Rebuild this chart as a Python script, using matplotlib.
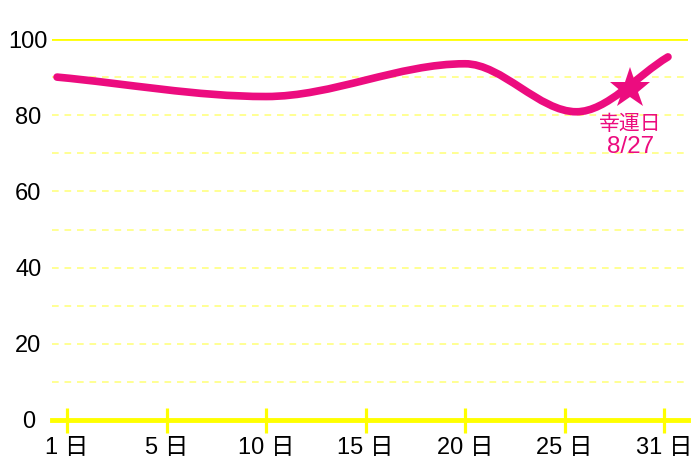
import numpy as np
import matplotlib.pyplot as plt
from matplotlib.path import Path
from matplotlib.patches import PathPatch

plt.rcParams['font.family'] = ['Liberation Sans', 'Noto Sans CJK JP', 'DejaVu Sans']

# tick labels (equally spaced categories)
tick_labels = ['1 日', '5 日', '10 日', '15 日', '20 日', '25 日', '31 日']
y_ticks = [0, 20, 40, 60, 80, 100]

# curve points (position on the tick scale, value)
curve_x = [-0.1, 2.0, 4.0, 5.12, 6.04]
curve_y = [90.0, 84.9, 93.5, 80.9, 95.3]

# lucky day marker
lucky_x = 5.66
lucky_y = 87
lucky_title = '幸運日'
lucky_date = '8/27'

PINK = '#ec0c7f'
YELLOW = '#ffff00'
GRID = '#ffff80'


def monotone_path(xs, ys):
    # monotone cubic (Fritsch-Carlson) drawn as bezier segments
    x = np.asarray(xs, float)
    y = np.asarray(ys, float)
    h = np.diff(x)
    d = np.diff(y) / h
    m = np.zeros_like(y)
    m[0], m[-1] = d[0], d[-1]
    for i in range(1, len(x) - 1):
        if d[i - 1] * d[i] > 0:
            m[i] = (h[i - 1] + h[i]) / (
                (2 * h[i] + h[i - 1]) / d[i - 1] + (h[i] + 2 * h[i - 1]) / d[i])
    verts = [(x[0], y[0])]
    codes = [Path.MOVETO]
    for i in range(len(x) - 1):
        verts += [(x[i] + h[i] / 3, y[i] + m[i] * h[i] / 3),
                  (x[i + 1] - h[i] / 3, y[i + 1] - m[i + 1] * h[i] / 3),
                  (x[i + 1], y[i + 1])]
        codes += [Path.CURVE4] * 3
    return Path(verts, codes)


fig = plt.figure(figsize=(7, 4.67), dpi=100)
ax = fig.add_axes([52 / 700, 47 / 467, 636 / 700, 381 / 467])
ax.set_xlim(-15 / 99.5, 6 + 24 / 99.5)
ax.set_ylim(0, 100)

for s in ax.spines.values():
    s.set_visible(False)

# grid lines
for v in range(10, 100, 10):
    ax.axhline(v, color=GRID, lw=1.2, ls=(0, (4, 3.5)), zorder=1)
ax.axhline(100, color=YELLOW, lw=2, zorder=1)
ax.axhline(0, color=YELLOW, lw=3.5, zorder=2, clip_on=False)

ax.set_xticks(range(len(tick_labels)))
ax.set_xticklabels(tick_labels, fontsize=17)
ax.tick_params(axis='x', direction='inout', length=18, width=2.3,
               color=YELLOW, pad=3)
ax.set_yticks(y_ticks)
ax.set_yticklabels([str(v) for v in y_ticks], fontsize=17, ha='center')
ax.tick_params(axis='y', length=0, pad=17)

path = monotone_path(curve_x, curve_y)
ax.add_patch(PathPatch(path, facecolor='none', edgecolor=PINK, lw=5.5,
                       capstyle='round', zorder=3))

ax.plot([lucky_x], [lucky_y], marker='*', markersize=31, color=PINK,
        markeredgewidth=0, zorder=4)
ax.text(lucky_x, lucky_y - 6.8, lucky_title, color=PINK, fontsize=15,
        ha='center', va='top', zorder=4)
ax.text(lucky_x, lucky_y - 12.5, lucky_date, color=PINK, fontsize=17.5,
        ha='center', va='top', zorder=4)

fig.savefig('out.png', dpi=100)
